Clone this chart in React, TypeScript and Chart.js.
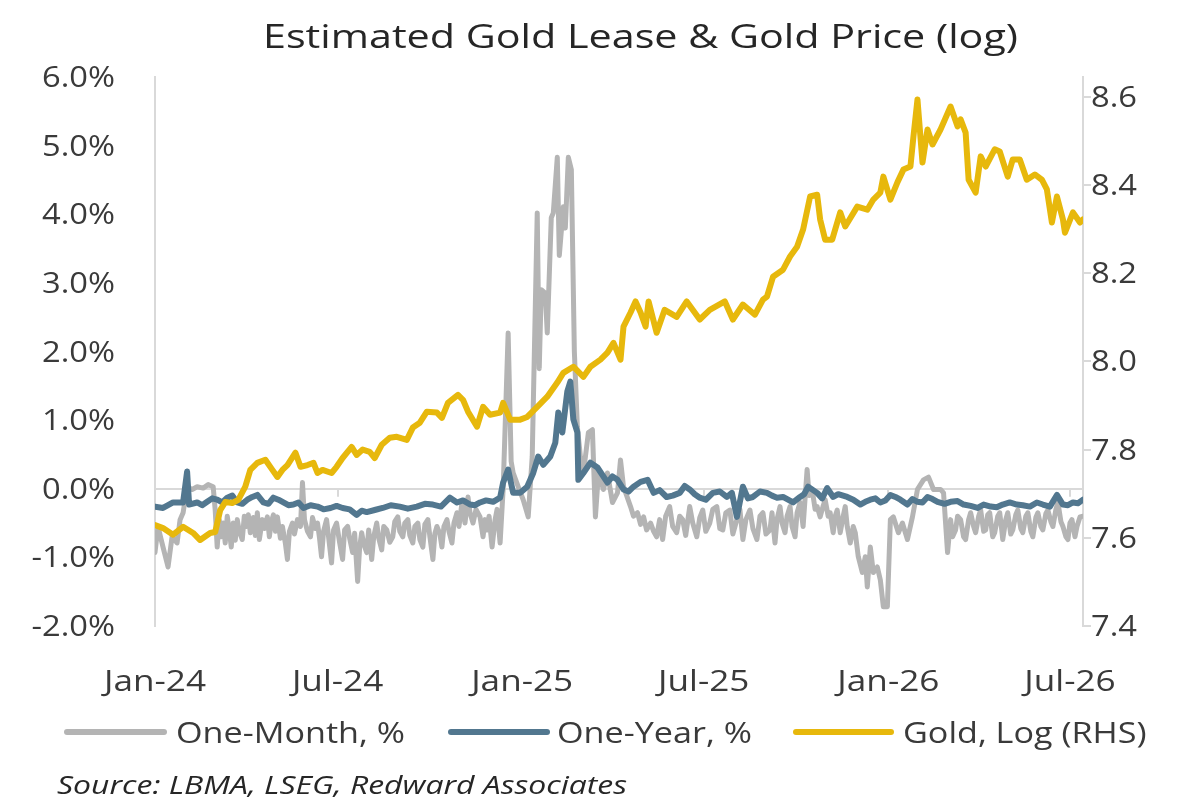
import { useEffect, useRef } from 'react';
import { Chart, registerables } from 'chart.js';

Chart.register(...registerables);

// Day offsets are counted from 1 Jan 2024.
const DAY_TICKS = [0, 182, 366, 547, 731, 912];
const DAY_LABELS = ['Jan-24', 'Jul-24', 'Jan-25', 'Jul-25', 'Jan-26', 'Jul-26'];
const DAY_MAX = 925;

const PCT_TICKS = [-2, -1, 0, 1, 2, 3, 4, 5, 6];
const LOG_TICKS = [7.4, 7.6, 7.8, 8.0, 8.2, 8.4, 8.6];

const TITLE = 'Estimated Gold Lease & Gold Price (log)';
const SOURCE = 'Source: LBMA, LSEG, Redward Associates';
const SERIES_LABELS = ['One-Month, %', 'One-Year, %', 'Gold, Log (RHS)'];
const SERIES_COLORS = ['#b4b4b4', '#52778f', '#e7b80c'];

// One-month lease rate, % as [day, value]
const oneMonth: [number, number][] = [
  [0, -0.93], [3, -0.55], [8, -0.85], [13, -1.14], [17, -0.7], [22, -0.79], [25, -0.45], [28, -0.35], [32, 0.03], [37, -0.01],
  [42, 0.03], [48, 0.01], [53, 0.06], [58, 0.03], [60, -0.31], [62, -0.85], [64, -0.45], [66, -0.7], [68, -0.5], [70, -0.79],
  [72, -0.4], [74, -0.6], [76, -0.85], [78, -0.5], [80, -0.75], [82, -0.45], [84, -0.62], [87, -0.74], [89, -0.4], [91, -0.55],
  [93, -0.38], [95, -0.64], [98, -0.42], [100, -0.68], [102, -0.35], [104, -0.74], [107, -0.45], [109, -0.58], [112, -0.41], [114, -0.7],
  [116, -0.48], [118, -0.38], [120, -0.62], [122, -0.41], [125, -0.72], [127, -0.55], [130, -0.8], [132, -1.03], [134, -0.62], [137, -0.5],
  [139, -0.66], [142, -0.45], [145, -0.55], [147, 0.09], [149, -0.45], [152, -0.62], [155, -0.7], [157, -0.42], [160, -0.58], [162, -0.5],
  [164, -0.72], [166, -0.99], [168, -0.62], [171, -0.45], [173, -0.7], [176, -1.08], [178, -0.6], [181, -0.5], [184, -0.78], [187, -1.03],
  [189, -0.6], [192, -0.55], [194, -0.72], [197, -0.93], [199, -0.65], [202, -1.35], [204, -0.85], [206, -0.64], [208, -0.8], [211, -0.93],
  [213, -0.6], [216, -1.03], [218, -0.7], [221, -0.5], [223, -0.72], [226, -0.89], [228, -0.55], [231, -0.6], [234, -0.78], [237, -0.7],
  [239, -0.48], [242, -0.41], [244, -0.62], [247, -0.7], [249, -0.5], [252, -0.45], [254, -0.68], [257, -0.79], [259, -0.55], [262, -0.5],
  [264, -0.74], [267, -0.85], [269, -0.52], [272, -0.45], [274, -0.7], [277, -1.03], [279, -0.65], [281, -0.55], [284, -0.66], [286, -0.85],
  [288, -0.55], [291, -0.45], [293, -0.62], [296, -0.79], [298, -0.5], [301, -0.35], [303, -0.55], [306, -0.2], [309, -0.5], [312, -0.12],
  [314, -0.35], [317, -0.5], [320, -0.3], [324, -0.41], [327, -0.7], [329, -0.45], [331, -0.6], [333, -0.4], [336, -0.85], [339, -0.45],
  [341, -0.3], [344, -0.79], [347, -0.01], [352, 2.27], [355, 0.4], [357, 0.23], [362, 0.03], [367, -0.16], [372, -0.41], [376, 0.47],
  [381, 4.02], [383, 1.75], [385, 2.9], [389, 2.85], [391, 2.27], [395, 3.95], [397, 4.02], [401, 4.83], [403, 3.4], [407, 4.11],
  [409, 3.8], [412, 4.83], [415, 4.65], [418, 2.0], [421, 0.9], [424, 0.47], [427, 0.23], [432, 0.82], [436, 0.86], [439, -0.41],
  [442, 0.23], [447, -0.01], [451, 0.23], [456, -0.2], [461, -0.06], [464, 0.42], [467, 0.03], [474, -0.26], [477, -0.4], [481, -0.35],
  [484, -0.52], [487, -0.41], [490, -0.6], [494, -0.5], [497, -0.62], [500, -0.7], [503, -0.45], [506, -0.74], [509, -0.4], [513, -0.26],
  [516, -0.55], [520, -0.64], [523, -0.4], [526, -0.45], [529, -0.68], [533, -0.26], [536, -0.5], [540, -0.7], [543, -0.42], [546, -0.31],
  [549, -0.62], [553, -0.5], [556, -0.3], [560, -0.26], [563, -0.58], [566, -0.6], [569, -0.35], [573, -0.31], [576, -0.66], [580, -0.45],
  [583, -0.3], [586, -0.74], [589, -0.45], [593, -0.31], [596, -0.58], [600, -0.74], [603, -0.4], [606, -0.35], [609, -0.66], [613, -0.6],
  [615, -0.35], [618, -0.79], [620, -0.45], [623, -0.26], [625, -0.5], [628, -0.64], [630, -0.4], [633, -0.26], [635, -0.55], [638, -0.7],
  [640, -0.35], [643, -0.2], [646, -0.55], [650, 0.28], [652, -0.1], [655, -0.01], [658, -0.3], [660, -0.26], [663, -0.41], [666, -0.25],
  [668, -0.16], [671, -0.4], [673, -0.35], [676, -0.64], [678, -0.4], [680, -0.31], [683, -0.64], [686, -0.4], [688, -0.26], [690, -0.55],
  [693, -0.79], [696, -0.55], [698, -0.64], [701, -0.99], [705, -1.22], [708, -0.99], [710, -1.43], [713, -0.85], [716, -1.22], [720, -1.14],
  [723, -1.33], [726, -1.72], [730, -1.72], [733, -0.45], [736, -0.41], [741, -0.64], [745, -0.5], [750, -0.74], [755, -0.41], [760, -0.01],
  [766, 0.13], [771, 0.17], [776, -0.01], [783, -0.01], [786, -0.06], [790, -0.93], [793, -0.45], [795, -0.7], [798, -0.6], [800, -0.4],
  [803, -0.45], [806, -0.7], [808, -0.74], [811, -0.45], [813, -0.35], [816, -0.55], [818, -0.64], [821, -0.4], [823, -0.31], [826, -0.62],
  [828, -0.6], [830, -0.38], [832, -0.35], [835, -0.7], [837, -0.64], [840, -0.4], [842, -0.35], [844, -0.6], [845, -0.74], [848, -0.45],
  [850, -0.35], [853, -0.66], [855, -0.6], [858, -0.38], [860, -0.31], [863, -0.58], [865, -0.64], [868, -0.4], [870, -0.35], [873, -0.62],
  [875, -0.7], [878, -0.42], [880, -0.35], [883, -0.55], [885, -0.6], [888, -0.36], [890, -0.31], [893, -0.48], [895, -0.55], [898, -0.3],
  [900, -0.2], [903, -0.48], [905, -0.55], [908, -0.7], [910, -0.74], [912, -0.5], [914, -0.45], [917, -0.7], [919, -0.55], [922, -0.41],
  [925, -0.4],
];

// One-year lease rate, %
const oneYearDays = [
  0, 8, 18, 28, 32, 34, 42, 47, 52, 57, 62, 67, 72, 77, 82, 87, 92, 97, 102, 108,
  113, 118, 123, 128, 133, 138, 143, 148, 155, 162, 168, 175, 181, 187, 194, 201, 206, 211, 219, 227,
  235, 244, 252, 261, 269, 277, 285, 294, 301, 307, 314, 319, 324, 330, 337, 344, 347, 352, 357, 364,
  371, 377, 382, 387, 394, 399, 402, 406, 411, 414, 417, 421, 422, 427, 434, 441, 451, 456, 461, 467,
  472, 477, 484, 491, 497, 503, 510, 516, 523, 528, 533, 538, 543, 549, 556, 563, 570, 575, 580, 586,
  591, 596, 603, 610, 615, 620, 626, 631, 636, 643, 647, 651, 656, 660, 665, 670, 676, 681, 690, 696,
  703, 708, 713, 718, 723, 728, 733, 738, 743, 750, 755, 760, 765, 770, 775, 780, 787, 793, 800, 806,
  813, 820, 826, 833, 839, 845, 852, 859, 865, 872, 879, 885, 892, 899, 905, 910, 915, 920, 925,
];
const oneYearPct = [
  -0.26, -0.28, -0.2, -0.2, 0.25, -0.23, -0.2, -0.24, -0.19, -0.14, -0.16, -0.2, -0.13, -0.1, -0.2, -0.22, -0.16, -0.12, -0.09, -0.2,
  -0.22, -0.13, -0.16, -0.2, -0.24, -0.23, -0.2, -0.28, -0.24, -0.26, -0.3, -0.28, -0.25, -0.28, -0.3, -0.38, -0.32, -0.34, -0.31, -0.28,
  -0.24, -0.26, -0.29, -0.26, -0.22, -0.23, -0.26, -0.13, -0.2, -0.17, -0.23, -0.24, -0.2, -0.17, -0.19, -0.13, 0.09, 0.28, -0.06, -0.06,
  0.03, 0.23, 0.47, 0.35, 0.47, 0.67, 1.11, 0.82, 1.42, 1.56, 1.01, 0.82, 0.13, 0.23, 0.38, 0.31, 0.09, 0.18, 0.13, -0.01,
  -0.04, 0.03, 0.1, 0.13, -0.06, -0.02, -0.12, -0.1, -0.06, 0.04, -0.01, -0.08, -0.13, -0.16, -0.06, -0.04, -0.12, -0.06, -0.41, 0.03,
  -0.14, -0.12, -0.04, -0.06, -0.1, -0.13, -0.12, -0.16, -0.2, -0.12, -0.08, 0.03, -0.02, -0.06, -0.14, 0.01, -0.12, -0.08, -0.12, -0.16,
  -0.23, -0.19, -0.16, -0.14, -0.2, -0.17, -0.09, -0.12, -0.16, -0.23, -0.15, -0.19, -0.2, -0.12, -0.15, -0.19, -0.22, -0.19, -0.18, -0.23,
  -0.25, -0.28, -0.23, -0.26, -0.27, -0.23, -0.2, -0.23, -0.24, -0.26, -0.2, -0.23, -0.26, -0.09, -0.23, -0.24, -0.2, -0.21, -0.16,
];

// Gold price, natural log (right-hand scale)
const goldDays = [
  0, 8, 18, 28, 38, 45, 55, 60, 65, 70, 77, 83, 90, 95, 102, 110, 117, 122, 127, 132,
  140, 145, 152, 158, 162, 167, 176, 181, 187, 196, 201, 207, 214, 219, 226, 234, 241, 251, 257, 264,
  271, 281, 286, 292, 302, 307, 312, 321, 327, 334, 344, 347, 354, 364, 371, 381, 391, 401, 407, 417,
  427, 434, 444, 451, 457, 464, 467, 474, 479, 484, 489, 492, 500, 508, 520, 530, 543, 553, 568, 576,
  586, 598, 606, 610, 616, 626, 633, 640, 646, 653, 660, 663, 668, 675, 683, 688, 700, 710, 716, 723,
  726, 733, 740, 746, 753, 756, 760, 765, 770, 775, 783, 793, 800, 803, 808, 811, 818, 823, 828, 837,
  842, 850, 855, 862, 869, 877, 884, 889, 894, 899, 905, 907, 915, 922, 925,
];
const goldLog = [
  7.629, 7.622, 7.607, 7.625, 7.611, 7.595, 7.611, 7.613, 7.663, 7.681, 7.679, 7.686, 7.716, 7.754, 7.77, 7.777, 7.754, 7.738, 7.754, 7.765,
  7.793, 7.761, 7.765, 7.77, 7.747, 7.754, 7.747, 7.761, 7.781, 7.806, 7.788, 7.8, 7.795, 7.781, 7.811, 7.827, 7.829, 7.822, 7.85, 7.861,
  7.886, 7.884, 7.872, 7.906, 7.924, 7.913, 7.886, 7.852, 7.897, 7.879, 7.884, 7.906, 7.868, 7.868, 7.874, 7.897, 7.92, 7.952, 7.974, 7.988,
  7.965, 7.988, 8.004, 8.02, 8.042, 8.004, 8.079, 8.111, 8.136, 8.111, 8.079, 8.136, 8.065, 8.117, 8.101, 8.136, 8.095, 8.117, 8.136, 8.095,
  8.129, 8.106, 8.14, 8.147, 8.192, 8.208, 8.238, 8.26, 8.299, 8.374, 8.378, 8.322, 8.276, 8.276, 8.338, 8.306, 8.351, 8.344, 8.367, 8.383,
  8.419, 8.367, 8.406, 8.435, 8.442, 8.51, 8.594, 8.451, 8.526, 8.492, 8.526, 8.578, 8.533, 8.549, 8.519, 8.412, 8.383, 8.465, 8.442, 8.481,
  8.476, 8.419, 8.458, 8.458, 8.412, 8.424, 8.412, 8.39, 8.315, 8.374, 8.322, 8.292, 8.338, 8.315, 8.322,
];

const FONT = '"Open Sans", "Noto Sans", sans-serif';
const TEXT_DARK = '#262626';
const TEXT_AXIS = '#3a3a3a';
const AXIS_GREY = '#d9d9d9';

const toPoints = (xs: number[], ys: number[]) => xs.map((x, i) => ({ x, y: ys[i] }));

// Horizontal stretch that makes `text` span `width` pixels in the given font.
function stretchFor(ctx: CanvasRenderingContext2D, text: string, font: string, width: number) {
  ctx.save();
  ctx.font = font;
  const w = ctx.measureText(text).width;
  ctx.restore();
  return w > 0 ? width / w : 1;
}

function drawText(
  ctx: CanvasRenderingContext2D,
  text: string,
  x: number,
  baseline: number,
  align: 'left' | 'center' | 'right',
  font: string,
  color: string,
  sx: number,
) {
  ctx.save();
  ctx.font = font;
  ctx.fillStyle = color;
  ctx.textAlign = 'left';
  ctx.textBaseline = 'alphabetic';
  const w = ctx.measureText(text).width * sx;
  const left = align === 'center' ? x - w / 2 : align === 'right' ? x - w : x;
  ctx.translate(left, baseline);
  ctx.scale(sx, 1);
  ctx.fillText(text, 0, 0);
  ctx.restore();
}

// Short tick marks where the date ticks cross the zero line.
const zeroLineTicks = {
  id: 'zeroLineTicks',
  beforeDatasetsDraw(chart: any) {
    const { ctx, scales } = chart;
    const y0 = scales.yPct.getPixelForValue(0);
    ctx.save();
    ctx.strokeStyle = AXIS_GREY;
    ctx.lineWidth = 2;
    DAY_TICKS.forEach((d) => {
      const x = Math.round(scales.x.getPixelForValue(d));
      ctx.beginPath();
      ctx.moveTo(x, y0);
      ctx.lineTo(x, y0 + 8);
      ctx.stroke();
    });
    ctx.restore();
  },
};

// Title, axis labels, legend and source note.
const chartText = {
  id: 'chartText',
  afterDraw(chart: any) {
    const { ctx, scales } = chart;

    const titleFont = `33px ${FONT}`;
    drawText(ctx, TITLE, 263, 48, 'left', titleFont, TEXT_DARK, stretchFor(ctx, TITLE, titleFont, 755));

    const tickFont = `29px ${FONT}`;
    const tickSx = stretchFor(ctx, '6.0%', tickFont, 73);
    PCT_TICKS.forEach((v) => {
      const y = scales.yPct.getPixelForValue(v);
      drawText(ctx, `${v.toFixed(1)}%`, 115, y + 10, 'right', tickFont, TEXT_AXIS, tickSx);
    });
    LOG_TICKS.forEach((v) => {
      const y = scales.yLog.getPixelForValue(v);
      drawText(ctx, v.toFixed(1), 1091, y + 10, 'left', tickFont, TEXT_AXIS, tickSx);
    });

    const xSx = stretchFor(ctx, 'Jan-24', tickFont, 102);
    DAY_TICKS.forEach((d, i) => {
      const x = scales.x.getPixelForValue(d);
      drawText(ctx, DAY_LABELS[i], x, 691, 'center', tickFont, TEXT_AXIS, xSx);
    });

    const legendFont = `29px ${FONT}`;
    const legendSx = stretchFor(ctx, SERIES_LABELS[0], legendFont, 229);
    const swatches = [
      [67, 164, 176],
      [451, 547, 557],
      [796, 891, 903],
    ];
    swatches.forEach(([x1, x2, tx], i) => {
      ctx.save();
      ctx.strokeStyle = SERIES_COLORS[i];
      ctx.lineWidth = 6;
      ctx.lineCap = 'round';
      ctx.beginPath();
      ctx.moveTo(x1, 732);
      ctx.lineTo(x2, 732);
      ctx.stroke();
      ctx.restore();
      drawText(ctx, SERIES_LABELS[i], tx, 743, 'left', legendFont, TEXT_AXIS, legendSx);
    });

    const sourceFont = `italic 25px ${FONT}`;
    drawText(ctx, SOURCE, 57, 794, 'left', sourceFont, TEXT_DARK, stretchFor(ctx, SOURCE, sourceFont, 570));
  },
};

export default function App() {
  const canvasRef = useRef<HTMLCanvasElement | null>(null);

  useEffect(() => {
    const canvas = canvasRef.current;
    if (!canvas) return;
    const lineStyle = {
      pointRadius: 0,
      pointHoverRadius: 0,
      tension: 0,
      fill: false,
      borderJoinStyle: 'round' as const,
      borderCapStyle: 'round' as const,
    };
    const chart = new Chart(canvas, {
      type: 'line',
      data: {
        datasets: [
          {
            ...lineStyle,
            label: SERIES_LABELS[0],
            data: oneMonth.map(([x, y]) => ({ x, y })),
            yAxisID: 'yPct',
            borderColor: SERIES_COLORS[0],
            borderWidth: 5,
            order: 3,
          },
          {
            ...lineStyle,
            label: SERIES_LABELS[1],
            data: toPoints(oneYearDays, oneYearPct),
            yAxisID: 'yPct',
            borderColor: SERIES_COLORS[1],
            borderWidth: 6,
            order: 2,
          },
          {
            ...lineStyle,
            label: SERIES_LABELS[2],
            data: toPoints(goldDays, goldLog),
            yAxisID: 'yLog',
            borderColor: SERIES_COLORS[2],
            borderWidth: 6,
            order: 1,
          },
        ],
      },
      options: {
        animation: false,
        responsive: true,
        maintainAspectRatio: false,
        events: [],
        layout: { padding: { top: 77, left: 0, right: 0, bottom: 0 } },
        plugins: {
          legend: { display: false },
          title: { display: false },
          tooltip: { enabled: false },
        },
        scales: {
          x: {
            type: 'linear',
            position: 'bottom',
            min: 0,
            max: DAY_MAX,
            grid: { display: false, drawTicks: false },
            border: { display: false },
            ticks: { display: false },
            afterBuildTicks: (s: any) => {
              s.ticks = DAY_TICKS.map((value) => ({ value }));
            },
            afterFit: (s: any) => {
              s.height = 186;
            },
          },
          yPct: {
            type: 'linear',
            position: 'left',
            min: -2,
            max: 6,
            grid: {
              drawTicks: false,
              lineWidth: 2,
              color: (c: any) => (c.tick && c.tick.value === 0 ? AXIS_GREY : 'rgba(0,0,0,0)'),
            },
            border: { display: true, color: AXIS_GREY, width: 2 },
            ticks: { display: false },
            afterBuildTicks: (s: any) => {
              s.ticks = PCT_TICKS.map((value) => ({ value }));
            },
            afterFit: (s: any) => {
              s.width = 155;
            },
          },
          yLog: {
            type: 'linear',
            position: 'right',
            min: 7.4,
            max: 8.645,
            grid: { drawOnChartArea: false, drawTicks: true, tickLength: 8, color: AXIS_GREY, lineWidth: 2 },
            border: { display: true, color: AXIS_GREY, width: 2 },
            ticks: { display: false },
            afterBuildTicks: (s: any) => {
              s.ticks = LOG_TICKS.map((value) => ({ value }));
            },
            afterFit: (s: any) => {
              s.width = 117;
            },
          },
        },
      },
      plugins: [zeroLineTicks, chartText],
    });
    return () => chart.destroy();
  }, []);

  return (
    <div style={{ position: 'fixed', left: 0, top: 0, width: 1200, height: 812, background: '#ffffff' }}>
      <canvas ref={canvasRef} />
    </div>
  );
}
